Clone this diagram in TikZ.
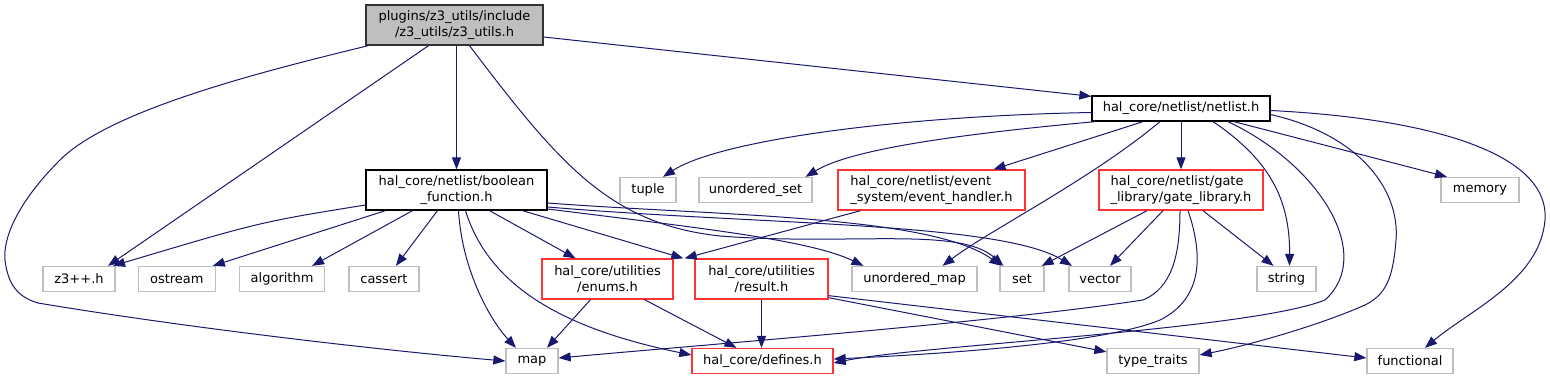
\documentclass[tikz,border=0pt]{standalone}
\usepackage{fontspec}
\setsansfont{DejaVu Sans}
\usepackage{tikz}
\usetikzlibrary{positioning,arrows.meta}
\definecolor{edgeblue}{HTML}{191970}
\definecolor{hdrred}{HTML}{FF3333}
\definecolor{sysgray}{HTML}{BFBFBF}

\begin{document}
\begin{tikzpicture}[x=1pt, y=-1pt,
    every node/.style={font=\sffamily\fontsize{13}{16}\selectfont, inner sep=0pt},
    file/.style={draw=black, line width=1.3pt, fill=white, minimum height=25pt},
    sys/.style={file, draw=sysgray},
    linked/.style={file, draw=hdrred},
    twoline/.style={minimum height=40pt, align=center},
    dep/.style={draw=edgeblue, line width=1pt, -{Triangle[length=12pt,width=9pt]}}
]
\useasboundingbox[fill=white] (0,0) rectangle (1550,380);
\node[file, fill=sysgray, draw=black!80, twoline, minimum width=177pt] (z3utils) at (454.5,25) {plugins/z3\_utils/include\\/z3\_utils/z3\_utils.h};
\node[file, twoline, minimum width=181pt] (boolfn) at (456.5,190) {hal\_core/netlist/boolean\\\_function.h};
\node[file, minimum width=178pt] (netlist) at (1181,108.5) {hal\_core/netlist/netlist.h};
\node[sys, minimum width=56pt] (tuple) at (648,190) {tuple};
\node[sys, minimum width=113pt] (uset) at (755.5,190) {unordered\_set};
\node[linked, twoline, align=left, minimum width=187pt] (evhandler) at (931.5,190) {hal\_core/netlist/event\\\_system/event\_handler.h};
\node[linked, twoline, align=left, minimum width=164pt] (gatelib) at (1181,190) {hal\_core/netlist/gate\\\_library/gate\_library.h};
\node[sys, minimum width=78pt] (memory) at (1480,190) {memory};
\node[sys, minimum width=72pt] (zthree) at (79,279) {z3++.h};
\node[sys, minimum width=77pt, right=22pt of zthree] (ostream) {ostream};
\node[sys, minimum width=85pt, right=23pt of ostream] (algorithm) {algorithm};
\node[sys, minimum width=70pt, right=23pt of algorithm] (cassert) {cassert};
\node[linked, twoline, minimum width=131pt] (enums) at (607.5,279) {hal\_core/utilities\\/enums.h};
\node[linked, twoline, minimum width=133pt] (result) at (761.5,279) {hal\_core/utilities\\/result.h};
\node[sys, minimum width=125pt] (umap) at (914.5,279) {unordered\_map};
\node[sys, minimum width=44pt] (set) at (1022,279) {set};
\node[sys, minimum width=62pt] (vector) at (1100,279) {vector};
\node[sys, minimum width=59pt] (string) at (1286.5,279) {string};
\node[sys, minimum width=52pt] (map) at (532,361) {map};
\node[linked, minimum width=141pt] (defines) at (762.5,361) {hal\_core/defines.h};
\node[sys, minimum width=92pt] (typetraits) at (1153,361) {type\_traits};
\node[sys, minimum width=86pt] (functional) at (1410,361) {functional};

\draw[dep] ([yshift=-12pt]z3utils.east) -- ([yshift=-1pt]netlist.north west);
\draw[dep] (boolfn.north |- z3utils.south) -- (boolfn.north);
\draw[dep] ([xshift=-26pt]z3utils.south) -- ([xshift=29pt]zthree.north);
\draw[dep] ([xshift=3pt]z3utils.south west) .. controls (260,72) and (110,110) .. (60,160) .. controls (15,205) and (3,240) .. (5,260) .. controls (8,285) and (18,297) .. (38,303) .. controls (200,330) and (400,352) .. (map.west);
\draw[dep] ([xshift=15pt]z3utils.south) .. controls (560,165) and (610,224) .. (720,236) .. controls (850,246) and (960,226) .. ([xshift=4pt]set.north west);

\draw[dep] ([yshift=-15pt]boolfn.west) .. controls (260,222) .. ([xshift=34pt]zthree.north);
\draw[dep] ([xshift=-71pt]boolfn.south) -- ([xshift=36pt]ostream.north);
\draw[dep] ([xshift=-44pt]boolfn.south) -- ([xshift=30pt]algorithm.north);
\draw[dep] ([xshift=-19pt]boolfn.south) -- ([xshift=12pt]cassert.north);
\draw[dep] ([xshift=2pt]boolfn.south) .. controls (462,270) and (490,320) .. ([xshift=-16pt]map.north);
\draw[dep] ([xshift=9pt]boolfn.south) .. controls (490,290) and (570,330) .. ([yshift=6pt]defines.west);
\draw[dep] ([xshift=33pt]boolfn.south) -- ([xshift=-32pt]enums.north);
\draw[dep] ([xshift=66pt]boolfn.south) -- ([xshift=-11pt]result.north west);
\draw[dep] ([yshift=-13pt]boolfn.east) .. controls (720,216) and (930,215) .. ([xshift=2pt]set.north west);
\draw[dep] ([yshift=-17pt]boolfn.east) .. controls (760,225) and (1000,222) .. ([xshift=-28pt]vector.north);
\draw[dep] ([yshift=-19pt]boolfn.east) .. controls (700,228) and (810,240) .. ([xshift=-51pt]umap.north);

\draw[dep] ([yshift=-4pt]netlist.west) .. controls (900,116) and (720,140) .. ([xshift=15pt]tuple.north);
\draw[dep] ([xshift=-86pt]netlist.south) .. controls (950,135) and (850,150) .. ([xshift=50pt]uset.north);
\draw[dep] ([xshift=-38pt]netlist.south) -- ([xshift=62pt]evhandler.north);
\draw[dep] ([xshift=-21pt]netlist.south) .. controls (1090,180) and (990,230) .. ([xshift=28pt]umap.north);
\draw[dep] (netlist.south) -- (gatelib.north);
\draw[dep] ([xshift=32pt]netlist.south) .. controls (1270,160) and (1290,200) .. ([xshift=3pt]string.north);
\draw[dep] ([xshift=47pt]netlist.south) .. controls (1320,165) and (1375,255) .. (1325,300) .. controls (1250,330) and (920,345) .. ([yshift=-2pt]defines.east);
\draw[dep] ([yshift=-6pt]netlist.east) .. controls (1360,135) and (1400,190) .. (1396,240) .. controls (1393,280) and (1385,295) .. (1365,305) .. controls (1320,325) and (1250,345) .. ([yshift=6pt]typetraits.east);
\draw[dep] ([xshift=53pt]netlist.south) -- ([xshift=-33pt]memory.north);
\draw[dep] ([yshift=-2pt]netlist.east) .. controls (1420,118) and (1550,150) .. (1545,220) .. controls (1540,280) and (1470,310) .. ([xshift=15pt]functional.north);

\draw[dep] ([xshift=-71pt]evhandler.south) -- ([xshift=11pt]enums.north east);

\draw[dep] ([xshift=-34pt]gatelib.south) -- ([xshift=-3pt]set.north east);
\draw[dep] ([xshift=-18pt]gatelib.south) -- ([xshift=10pt]vector.north);
\draw[dep] ([xshift=-1pt]gatelib.south) .. controls (1180,255) and (1172,288) .. (1143,300) .. controls (1000,322) and (700,345) .. ([yshift=3pt]map.east);
\draw[dep] ([xshift=7pt]gatelib.south) .. controls (1205,260) and (1200,300) .. (1160,320) .. controls (1100,345) and (920,355) .. ([yshift=2pt]defines.east);
\draw[dep] ([xshift=22pt]gatelib.south) -- ([xshift=-13pt]string.north);

\draw[dep] ([xshift=-17pt]enums.south) -- ([xshift=15pt]map.north);
\draw[dep] ([xshift=37pt]enums.south) -- ([xshift=-26pt]defines.north);

\draw[dep] (result.south) -- (result.south |- defines.north);
\draw[dep] ([yshift=2pt]result.south east) -- ([yshift=-4pt]typetraits.north west);
\draw[dep] ([yshift=4pt]result.south east) -- ([yshift=3pt]functional.west);
\end{tikzpicture}
\end{document}
